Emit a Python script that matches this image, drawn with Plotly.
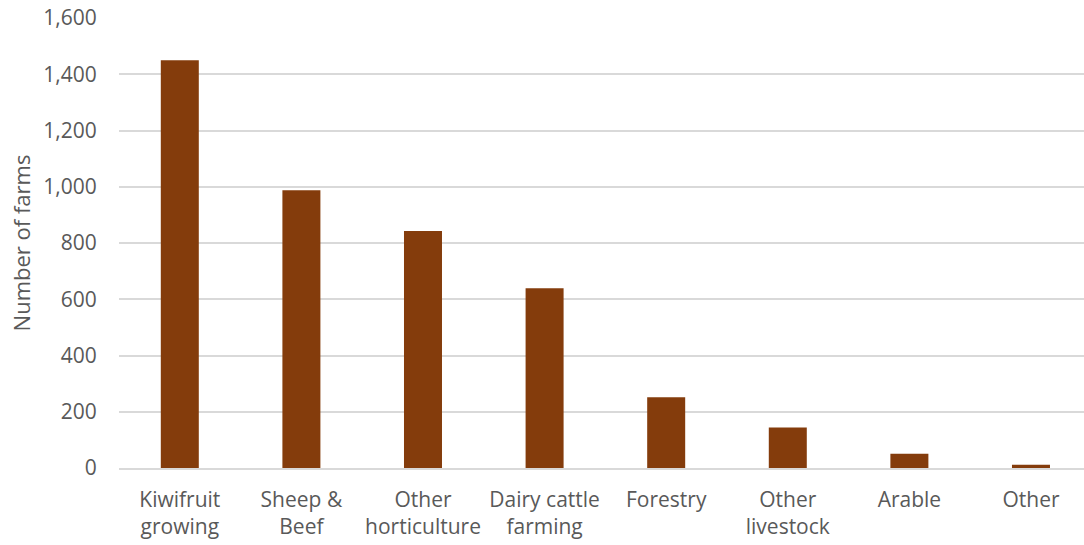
import plotly.graph_objects as go

categories = ["Kiwifruit<br>growing", "Sheep &<br>Beef", "Other<br>horticulture",
              "Dairy cattle<br>farming", "Forestry", "Other<br>livestock", "Arable", "Other"]
farms = [1450, 988, 843, 639, 252, 144, 51, 12]

fig = go.Figure(
    go.Bar(
        x=categories,
        y=farms,
        marker=dict(color="#843C0C", line=dict(width=0)),
        width=0.3125,
    )
)

font_family = "Open Sans, Noto Sans, sans-serif"
text_grey = "#595959"

fig.update_layout(
    width=1084,
    height=545,
    margin=dict(l=119, r=0, t=18, b=77),
    plot_bgcolor="white",
    paper_bgcolor="white",
    showlegend=False,
    font=dict(family=font_family, size=21, color=text_grey),
    xaxis=dict(
        range=[-0.5, 7.436],
        showgrid=False,
        showline=True,
        linecolor="#D9D9D9",
        linewidth=1.5,
        ticks="",
        ticklabelstandoff=12,
        tickfont=dict(size=21, color=text_grey),
    ),
    yaxis=dict(
        range=[0, 1600],
        dtick=200,
        tickformat=",",
        showgrid=True,
        gridcolor="#D9D9D9",
        gridwidth=1.5,
        zeroline=False,
        showline=False,
        ticks="outside",
        ticklen=17,
        tickcolor="white",
        tickfont=dict(size=21, color=text_grey),
        title=dict(text="Number of farms", font=dict(size=22, color=text_grey), standoff=6),
    ),
)

fig.write_html("out.html")
